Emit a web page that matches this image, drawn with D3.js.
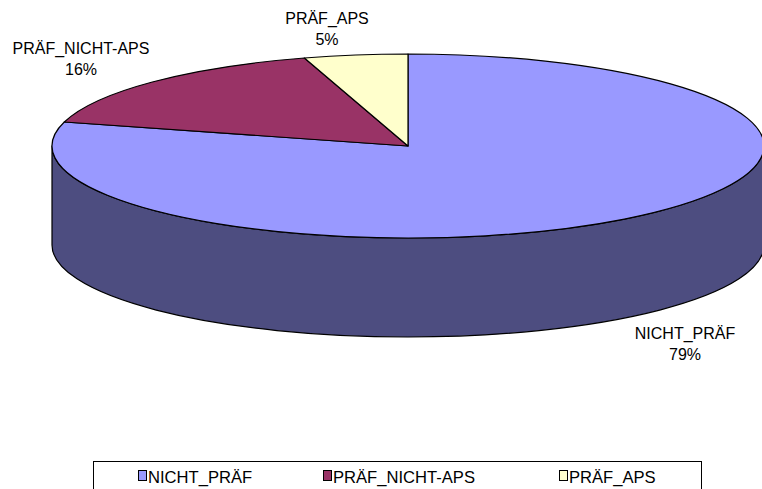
<!DOCTYPE html>
<html>
<head>
<meta charset="utf-8">
<script src="https://cdn.jsdelivr.net/npm/d3@7"></script>
<style>
  html, body { margin: 0; padding: 0; background: #fff; }
  svg { display: block; }
</style>
</head>
<body>
<svg id="chart"></svg>
<script>
// data
const categories = ["NICHT_PRÄF", "PRÄF_NICHT-APS", "PRÄF_APS"];
const values = [79.2, 16.1, 4.7];
const colors = ["#9999FF", "#993366", "#FFFFCC"];

const width = 762, height = 489;
const cx = 408, cy = 146, rx = 356, ry = 92, depth = 99;

const svg = d3.select("#chart")
    .attr("width", width)
    .attr("height", height)
    .style("font-family", "'Liberation Sans', Arial, sans-serif");

const color = d3.scaleOrdinal().domain(categories).range(colors);
const shade = c => { const r = d3.rgb(c); return d3.rgb(r.r * 0.5, r.g * 0.5, r.b * 0.5).toString(); };

const pie = d3.pie().sort(null).value(d => d.value);
const arcs = pie(categories.map((c, i) => ({ name: c, value: values[i] })));

// point on ellipse, angle 0 at top, clockwise
const pt = (a, dy = 0) => [cx + rx * Math.sin(a), cy - ry * Math.cos(a) + dy];

const topPath = d => {
    const p0 = pt(d.startAngle), p1 = pt(d.endAngle);
    const large = (d.endAngle - d.startAngle) > Math.PI ? 1 : 0;
    return `M${cx},${cy}L${p0}A${rx},${ry} 0 ${large} 1 ${p1}Z`;
};

const sidePath = d => {
    const a0 = Math.max(d.startAngle, Math.PI / 2);
    const a1 = Math.min(d.endAngle, Math.PI * 1.5);
    if (a1 <= a0) return null;
    const p0 = pt(a0), p1 = pt(a1), q0 = pt(a0, depth), q1 = pt(a1, depth);
    return `M${p0}A${rx},${ry} 0 0 1 ${p1}L${q1}A${rx},${ry} 0 0 0 ${q0}Z`;
};

const g = svg.append("g");

// outer walls
g.selectAll("path.side")
    .data(arcs.filter(d => sidePath(d)))
    .join("path")
    .attr("class", "side")
    .attr("d", sidePath)
    .attr("fill", d => shade(color(d.data.name)))
    .attr("stroke", "#000")
    .attr("stroke-width", 1.2)
    .attr("stroke-linejoin", "round");

// top faces
g.selectAll("path.top")
    .data(arcs)
    .join("path")
    .attr("class", "top")
    .attr("d", topPath)
    .attr("fill", d => color(d.data.name))
    .attr("stroke", "#000")
    .attr("stroke-width", 1.2)
    .attr("stroke-linejoin", "round");

// labels
const labelPos = { "NICHT_PRÄF": [685, 339], "PRÄF_NICHT-APS": [81, 54], "PRÄF_APS": [327, 24] };
const total = d3.sum(values);
const lbl = svg.append("g")
    .attr("font-size", 16)
    .attr("text-anchor", "middle")
    .attr("fill", "#000");
arcs.forEach(d => {
    const [x, y] = labelPos[d.data.name];
    const t = lbl.append("text").attr("x", x).attr("y", y);
    t.append("tspan").attr("x", x).text(d.data.name);
    t.append("tspan").attr("x", x).attr("dy", 21).text(Math.round(d.data.value / total * 100) + "%");
});

// legend
const legend = svg.append("g");
legend.append("rect")
    .attr("x", 93.5).attr("y", 461.5)
    .attr("width", 608).attr("height", 40)
    .attr("fill", "#fff").attr("stroke", "#000").attr("stroke-width", 1);

const legX = d3.scaleOrdinal().domain(categories).range([138, 323, 559]);
const item = legend.selectAll("g.item")
    .data(categories)
    .join("g")
    .attr("class", "item")
    .attr("transform", d => `translate(${legX(d)},0)`);
item.append("rect")
    .attr("x", 0.5).attr("y", 470.5)
    .attr("width", 8).attr("height", 10)
    .attr("fill", d => color(d))
    .attr("stroke", "#000").attr("stroke-width", 1);
item.append("text")
    .attr("x", 10).attr("y", 483)
    .attr("font-size", 16.6)
    .text(d => d);
</script>
</body>
</html>
